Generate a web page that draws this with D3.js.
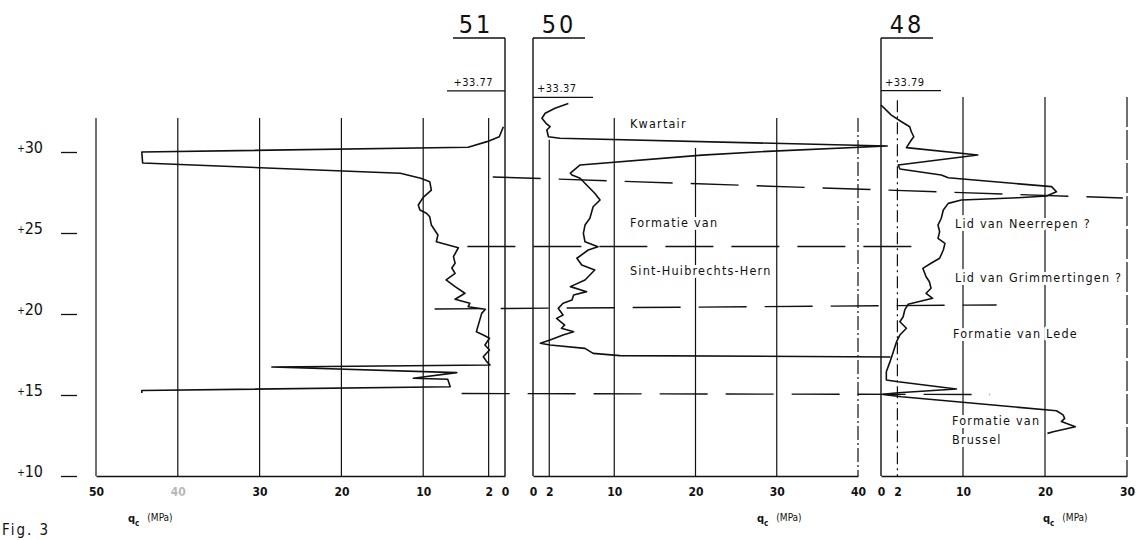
<!DOCTYPE html>
<html><head><meta charset="utf-8">
<script src="https://cdn.jsdelivr.net/npm/d3@7"></script>
<style>
body{margin:0;background:#fff;}
svg{display:block;background:#fff;}
text{font-family:"DejaVu Sans Condensed","Liberation Sans Narrow","DejaVu Sans",sans-serif;fill:#111;}
</style></head><body>
<svg id="c" width="1140" height="540"></svg>
<script>
// ---------------- data ----------------
const elevTicks = [10, 15, 20, 25, 30];
const soundings = ["51", "50", "48"];
const groundLevels = [33.77, 33.37, 33.79];
const groundLabels = ["+33.77", "+33.37", "+33.79"];
const qTicks51 = [50, 40, 30, 20, 10, 2, 0];
const qTicks50 = [0, 2, 10, 20, 30, 40];
const qTicks48 = [0, 2, 10, 20, 30];
const axisTitle = "(MPa)";
const figLabel = "Fig. 3";
// [elevation (m), qc (MPa)]
const cpt51 = [[31.56,0.2],[30.94,0.7],[30.64,2.2],[30.29,4.5],[30.0,44.4],[29.32,44.3],[28.69,12.8],[28.38,10.3],[28.17,9.2],[27.65,9.0],[27.2,10.0],[26.73,10.6],[26.42,10.4],[26.22,9.6],[26.0,9.2],[25.49,9.0],[24.88,8.2],[24.46,8.4],[24.09,5.7],[23.54,6.3],[23.13,6.1],[22.84,6.5],[22.51,6.1],[22.1,7.2],[21.69,6.1],[21.28,4.9],[20.91,6.1],[20.66,4.3],[20.45,4.5],[20.29,2.4],[20.04,2.85],[18.91,3.5],[18.7,2.65],[18.5,1.9],[18.09,2.45],[17.78,1.9],[17.36,2.65],[17.06,2.24],[16.85,1.83],[16.73,28.5],[16.38,5.9],[16.03,11.2],[15.97,7.0],[15.51,6.7],[15.28,44.4],[15.12,44.4]];
const cpt50 = [[33.0,4.35],[32.7,2.7],[32.39,1.5],[32.08,1.1],[31.77,1.6],[31.56,2.1],[31.36,1.7],[30.94,1.9],[30.85,3.3],[30.37,43.6],[30.02,28.0],[29.81,20.8],[29.2,5.8],[28.69,4.6],[28.58,4.8],[28.38,5.8],[27.96,6.6],[27.45,7.6],[27.04,8.25],[26.62,7.4],[25.91,7.0],[25.49,6.4],[24.98,6.2],[24.46,6.4],[24.15,8.0],[23.95,6.8],[23.44,5.4],[23.02,6.0],[22.72,7.6],[22.1,6.4],[21.69,4.6],[21.38,6.6],[21.17,5.0],[20.86,4.8],[20.66,3.7],[20.35,3.1],[19.94,3.7],[19.73,2.9],[19.32,3.9],[19.12,3.5],[18.9,5.0],[18.7,3.7],[18.4,2.1],[18.19,0.9],[18.09,2.1],[17.88,6.4],[17.57,7.4],[17.43,10.7],[17.35,44.0]];
const cpt48 = [[32.9,0.0],[32.28,1.26],[31.87,2.5],[31.56,3.5],[31.25,3.7],[30.94,4.0],[30.74,3.7],[30.27,3.1],[29.81,11.8],[29.2,2.1],[28.95,2.3],[28.58,7.35],[28.41,8.2],[27.86,20.8],[27.55,21.4],[27.28,20.2],[27.18,16.7],[27.04,9.8],[26.83,8.2],[26.42,7.6],[25.91,7.35],[25.49,6.95],[25.08,7.15],[24.67,6.95],[24.36,7.8],[23.95,7.6],[23.44,7.15],[23.13,6.1],[22.82,5.1],[22.3,5.5],[21.99,5.9],[21.59,6.1],[21.28,5.5],[20.97,6.3],[20.6,3.3],[20.25,2.9],[19.83,2.7],[19.52,2.3],[19.12,3.1],[18.7,2.3],[18.29,1.9],[17.67,1.5],[17.06,1.1],[16.44,0.65],[15.93,0.65],[15.82,2.1],[15.37,9.2],[15.14,2.1],[15.04,0.25],[14.89,2.5],[14.03,21.4],[13.77,22.2],[13.56,22.4],[13.36,22.0],[13.04,23.7],[12.73,21.0],[12.63,20.3]];
// layer boundaries: elevation at left end, elevation at right end
const boundaryElevLeft  = [28.46, 24.17, 20.31, 15.09];
const boundaryElevRight = [27.16, 24.17, 20.56, 15.03];
const layerNames = ["Kwartair", "Formatie van", "Sint-Huibrechts-Hern", "Lid van Neerrepen ?", "Lid van Grimmertingen ?", "Formatie van Lede", "Formatie van", "Brussel"];

// ---------------- layout ----------------
const svg = d3.select("#c");
const INK = "#111";
const y = d3.scaleLinear().domain([10, 30]).range([476, 152]);
const x51 = d3.scaleLinear().domain([0, 50]).range([505, 96]);
const x50 = d3.scaleLinear().domain([0, 40]).range([533, 858]);
const x48 = d3.scaleLinear().domain([0, 30]).range([881, 1127]);
const panels = [
  {x: x51, ticks: qTicks51, data: cpt51, dir: -1, top: {50:32.1,40:32.1,30:32.1,20:32.1,10:32.1,2:32.1}, dash: {}},
  {x: x50, ticks: qTicks50, data: cpt50, dir: 1, top: {2:30.75,10:32.1,20:30.25,30:32.1,40:32.1}, dash: {40:"14,3,2,3"}},
  {x: x48, ticks: qTicks48, data: cpt48, dir: 1, top: {2:33.2,10:33.4,20:33.4,30:33.4}, dash: {2:"12,4,2,4",30:"30,3"}}
];
const frameTopY = 38;

// y axis
const yAx = svg.append("g").attr("transform", "translate(77,0)")
  .call(d3.axisLeft(y).tickValues(elevTicks).tickSize(16).tickPadding(18).tickFormat(d => d));
yAx.select(".domain").remove();
yAx.selectAll(".tick line").attr("stroke", INK).attr("stroke-width", 1.3);
yAx.selectAll(".tick text").each(function(d){
  const t = d3.select(this); t.text(null)
    .attr("font-size", 16).attr("fill", INK).style("font-family", "'DejaVu Sans Condensed','DejaVu Sans',sans-serif");
  t.append("tspan").attr("font-size", 10).attr("dy", "-0.1em").text("+");
  t.append("tspan").attr("dy", "0.1em").text(d);
});

// panels: frame, grid, bottom axis
panels.forEach((p, i) => {
  const g = svg.append("g");
  p.ticks.filter(t => t !== 0).forEach(t => {
    g.append("line").attr("x1", p.x(t)).attr("x2", p.x(t))
      .attr("y1", y(p.top[t])).attr("y2", y(10))
      .attr("stroke", INK).attr("stroke-width", 1.2)
      .attr("stroke-dasharray", p.dash[t] || null);
  });
  g.append("line").attr("x1", p.x(0)).attr("x2", p.x(0)).attr("y1", frameTopY).attr("y2", y(10))
    .attr("stroke", INK).attr("stroke-width", 1.4);
  const hx2 = p.x(0) + p.dir * 52;
  g.append("line").attr("x1", p.x(0)).attr("x2", hx2).attr("y1", frameTopY).attr("y2", frameTopY)
    .attr("stroke", INK).attr("stroke-width", 1.3);
  g.append("text").attr("x", (p.x(0) + hx2) / 2 + (i === 0 ? -3 : 0)).attr("y", 33)
    .attr("text-anchor", "middle").attr("font-size", 25).attr("letter-spacing", 3)
    .style("font-weight", 200).text(soundings[i]);
  const gy = y(groundLevels[i]);
  const gx2 = p.x(0) + p.dir * (i === 0 ? 58 : 60);
  g.append("line").attr("x1", p.x(0)).attr("x2", gx2).attr("y1", gy).attr("y2", gy)
    .attr("stroke", INK).attr("stroke-width", 1.2);
  g.append("text").attr("x", i === 0 ? p.x(0) - 12 : p.x(0) + 4).attr("y", gy - 5)
    .attr("text-anchor", i === 0 ? "end" : "start").attr("font-size", 11).attr("letter-spacing", 0.5)
    .text(groundLabels[i]);
  const ax = svg.append("g").attr("transform", `translate(0,${y(10)})`)
    .call(d3.axisBottom(p.x).tickValues(p.ticks).tickSize(0).tickSizeOuter(0).tickPadding(11).tickFormat(d => d));
  ax.select(".domain").attr("stroke", INK).attr("stroke-width", 1.4);
  ax.selectAll(".tick text").attr("font-size", 12).attr("font-weight", "bold").attr("fill", INK)
    .style("font-family", "'DejaVu Sans Condensed','DejaVu Sans',sans-serif")
    .attr("opacity", d => (i === 0 && d === 40) ? 0.3 : 1);
});

// layer boundaries (dashed)
const bStartX = [x51(1.5), x51(4.6), x51(8.6), x51(5.3)];
const bEndX = [x48(29.5), x48(5.6), x48(14.1), x48(13.3)];
boundaryElevLeft.forEach((e, k) => {
  svg.append("line").attr("x1", bStartX[k]).attr("x2", bEndX[k])
    .attr("y1", y(e)).attr("y2", y(boundaryElevRight[k]))
    .attr("stroke", INK).attr("stroke-width", 1.4).attr("stroke-dasharray", "48,18");
});

// layer labels (white halo interrupts the grid lines like the original)
const labelPos = [[630,128],[630,227],[630,275],[955,228],[955,282],[953,338],[952,425],[952,444]];
layerNames.forEach((n, k) => {
  svg.append("text").attr("x", labelPos[k][0]).attr("y", labelPos[k][1])
    .attr("font-size", 12.5).attr("letter-spacing", 1.2)
    .attr("stroke", "#fff").attr("stroke-width", 6).attr("stroke-linejoin", "round")
    .attr("paint-order", "stroke").text(n);
});

// CPT curves
panels.forEach(p => {
  const line = d3.line().x(d => p.x(d[1])).y(d => y(d[0]));
  svg.append("path").datum(p.data).attr("d", line)
    .attr("fill", "none").attr("stroke", INK).attr("stroke-width", 1.6).attr("stroke-linejoin", "round");
});

// axis titles
[[128, 522], [757, 522], [1043, 522]].forEach(([tx, ty]) => {
  const t = svg.append("text").attr("x", tx).attr("y", ty).attr("font-size", 11).attr("font-weight", "bold");
  t.append("tspan").text("q");
  t.append("tspan").attr("font-size", 8).attr("dy", 4).text("c");
  t.append("tspan").attr("dx", 8).attr("dy", -5).attr("font-size", 10).attr("font-weight", "normal").text(axisTitle);
});
svg.append("text").attr("x", 2).attr("y", 535).attr("font-size", 15).attr("letter-spacing", 2).text(figLabel);
</script>
</body></html>
